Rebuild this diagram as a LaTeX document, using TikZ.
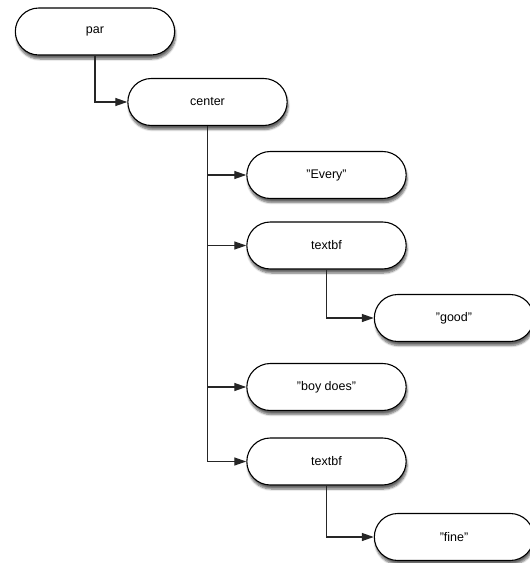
\documentclass[tikz,border=0pt]{standalone}
\usepackage{fontspec}
\setmainfont{Liberation Sans}
\usetikzlibrary{shapes.misc,shadows.blur,arrows.meta}

\begin{document}
\begin{tikzpicture}[x=1pt,y=-1pt,
	elem/.style={rounded rectangle, draw=black, line width=1.1pt, fill=white,
		minimum width=166pt, minimum height=47pt,
		font=\fontsize{12.5}{15}\selectfont,
		blur shadow={shadow xshift=1pt, shadow yshift=-4pt, shadow blur steps=6, shadow opacity=60}},
	link/.style={line width=1.3pt, draw=black!85, -{Triangle[length=12pt,width=8pt]}}]
	\useasboundingbox (0,0) rectangle (530,563);

	\node[elem] (par) at (95,31.5) {par};
	\node[elem] (center) at (207.5,102) {center};
	\node[elem] (every) at (326.5,175) {"Every"};
	\node[elem] (textbf1) at (326.5,245.5) {textbf};
	\node[elem] (good) at (454,318) {"good"};
	\node[elem] (boy) at (326.5,387) {"boy does"};
	\node[elem] (textbf2) at (326.5,461.5) {textbf};
	\node[elem] (fine) at (454,537) {"fine"};

%	tree links
	\draw[link] (par.south) |- (center.west);
	\draw[link] (center.south) |- (every.west);
	\draw[link] (center.south) |- (textbf1.west);
	\draw[link] (center.south) |- (boy.west);
	\draw[link] (center.south) |- (textbf2.west);
	\draw[link] (textbf1.south) |- (good.west);
	\draw[link] (textbf2.south) |- (fine.west);

\end{tikzpicture}
\end{document}
